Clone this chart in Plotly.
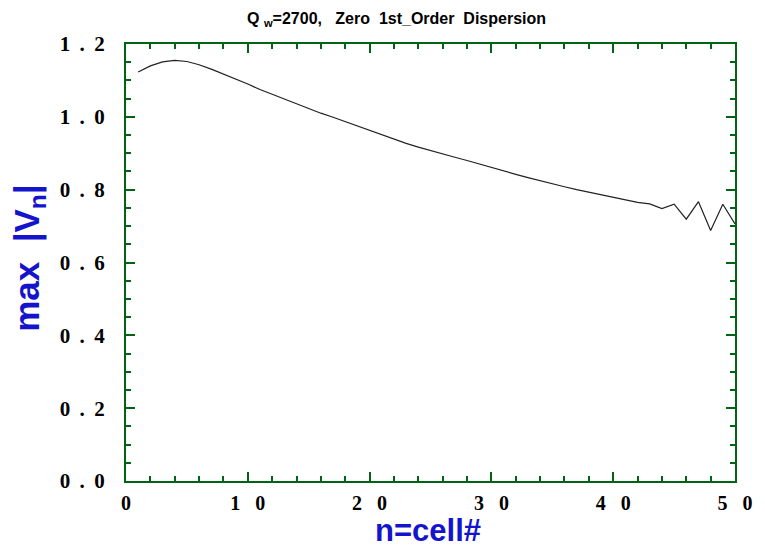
import plotly.graph_objects as go

n_cell = list(range(1, 51))
max_vn = [1.123, 1.140, 1.151, 1.155, 1.152, 1.143, 1.131, 1.118, 1.104, 1.090,
          1.075, 1.063, 1.049, 1.036, 1.022, 1.010, 0.999, 0.987, 0.974, 0.963,
          0.952, 0.939, 0.927, 0.917, 0.907, 0.899, 0.889, 0.880, 0.870, 0.861,
          0.852, 0.842, 0.833, 0.824, 0.815, 0.808, 0.800, 0.793, 0.787, 0.781,
          0.774, 0.765, 0.761, 0.748, 0.760, 0.719, 0.767, 0.688, 0.760, 0.706]

x_tickvals = [0, 10, 20, 30, 40, 50]
x_ticktext = ["0", "1&nbsp;&nbsp;&nbsp;0", "2&nbsp;&nbsp;&nbsp;0", "3&nbsp;&nbsp;&nbsp;0",
              "4&nbsp;&nbsp;&nbsp;0", "5&nbsp;&nbsp;&nbsp;0"]
y_tickvals = [0.0, 0.2, 0.4, 0.6, 0.8, 1.0, 1.2]
y_ticktext = ["0&nbsp;&#8201;.&nbsp;&#8201;0", "0&nbsp;&#8201;.&nbsp;&#8201;2",
              "0&nbsp;&#8201;.&nbsp;&#8201;4", "0&nbsp;&#8201;.&nbsp;&#8201;6",
              "0&nbsp;&#8201;.&nbsp;&#8201;8", "1&nbsp;&#8201;.&nbsp;&#8201;0",
              "1&nbsp;&#8201;.&nbsp;&#8201;2"]

W, H = 765, 550
L, R, T, B = 126, 25, 44, 69
PW, PH = W - L - R, H - T - B

def px_x(px):
    return (px - L) / PW

def px_y(py):
    return (H - B - py) / PH

green = "#006414"
blue = "#1414CC"
xtickfont = dict(family="Liberation Serif", size=20, color="black", weight="bold")
ytickfont = dict(family="Liberation Serif", size=21, color="black", weight="bold")

fig = go.Figure()
fig.add_trace(go.Scatter(x=n_cell, y=max_vn, mode="lines",
                         line=dict(color="#222222", width=1.2), showlegend=False))

fig.update_layout(
    width=W, height=H,
    margin=dict(l=L, r=R, t=T, b=B),
    paper_bgcolor="white", plot_bgcolor="white",
    annotations=[
        dict(text="Q <sub>w</sub>=2700,&nbsp;&nbsp;&nbsp;Zero&nbsp;&nbsp;1st_Order&nbsp;&nbsp;Dispersion",
             xref="paper", yref="paper", x=px_x(399), y=px_y(19),
             xanchor="center", yanchor="middle", showarrow=False,
             font=dict(family="Liberation Sans", size=16, color="black", weight="bold")),
        dict(text="n=cell#", xref="paper", yref="paper", x=px_x(430), y=px_y(550),
             xanchor="center", yanchor="bottom", showarrow=False,
             font=dict(family="Liberation Sans", size=31, color=blue, weight="bold")),
        dict(text="max&nbsp;&nbsp;|V<sub>n</sub>|", xref="paper", yref="paper",
             x=px_x(28), y=px_y(258), textangle=-90,
             xanchor="center", yanchor="middle", showarrow=False,
             font=dict(family="Liberation Sans", size=35, color=blue, weight="bold")),
    ],
)

fig.update_xaxes(
    range=[0, 50], tickvals=x_tickvals, ticktext=x_ticktext,
    ticks="inside", ticklen=9, tickwidth=1.5, tickcolor=green,
    showline=True, linecolor=green, linewidth=2, mirror="allticks",
    showgrid=False, zeroline=False, tickfont=xtickfont, ticklabelstandoff=3,
    minor=dict(dtick=2, ticks="inside", ticklen=5, tickwidth=1.5, tickcolor=green, showgrid=False),
)
fig.update_yaxes(
    range=[0, 1.2], tickvals=y_tickvals, ticktext=y_ticktext,
    ticks="inside", ticklen=9, tickwidth=1.5, tickcolor=green,
    showline=True, linecolor=green, linewidth=2, mirror="allticks",
    showgrid=False, zeroline=False, tickfont=ytickfont, ticklabelstandoff=15,
    minor=dict(dtick=0.05, ticks="inside", ticklen=5, tickwidth=1.5, tickcolor=green, showgrid=False),
)

fig.write_html("out.html")
